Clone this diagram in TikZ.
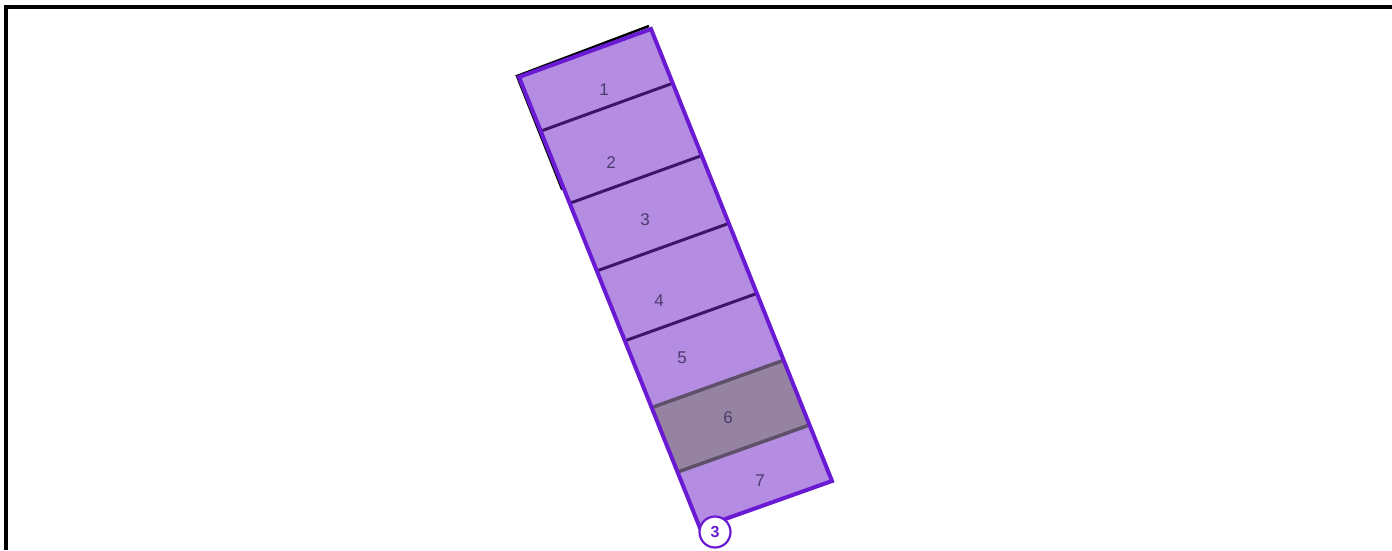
\documentclass[tikz,border=0pt]{standalone}
\usepackage{fontspec}
\setmainfont{Liberation Sans}
\usetikzlibrary{calc}
\definecolor{stripfill}{HTML}{B48DE2}
\definecolor{stripedge}{HTML}{6A1AD2}
\definecolor{divline}{HTML}{3E1468}
\definecolor{bayfill}{HTML}{9683A2}
\definecolor{bayline}{HTML}{5E5068}
\definecolor{labeltext}{HTML}{4B3B6B}
\begin{document}
\begin{tikzpicture}[
                    x=1pt,y=-1pt,
                    strip/.style={draw=stripedge,line width=4pt,line join=miter},
                    divider/.style={draw=divline,line width=3pt},
                    bay/.style={text=labeltext,font=\fontsize{17}{20}\selectfont},
                    badge/.style={circle,draw=stripedge,fill=white,line width=2.2pt,
                                  minimum size=31pt,inner sep=0pt,text=stripedge,
                                  font=\bfseries\fontsize{16}{18}\selectfont}
                  ]
  \useasboundingbox (0,0) rectangle (1392,550);
  % frame
  \draw[line width=3.5pt] (6,550) -- (6,7) -- (1392,7);
  % strip corners
  \coordinate (tl) at (519,77);
  \coordinate (tr) at (651,29);
  \coordinate (br) at (832,481);
  \coordinate (bl) at (700,528);
  % shadow
  \draw[line width=2.5pt] ($(tr)+(-2,-3)$) -- ($(tl)+(-2,-1)$) -- ($($(tl)!0.25!(bl)$)+(-2,0)$);
  \fill[stripfill] (tl) -- (tr) -- (br) -- (bl) -- cycle;
  % dividers
  \foreach \i/\f in {1/0.12,2/0.28,3/0.43,4/0.585,5/0.733,6/0.876}{
    \coordinate (l\i) at ($(tl)!\f!(bl)$);
    \coordinate (r\i) at ($(tr)!\f!(br)$);
  }
  \fill[bayfill] (l5) -- (r5) -- (r6) -- (l6) -- cycle;
  \foreach \i in {1,2,3,4}{
    \draw[divider] (l\i) -- (r\i);
  }
  \draw[draw=bayline,line width=3.5pt] (l5) -- (r5);
  \draw[draw=bayline,line width=3.5pt] (l6) -- (r6);
  \draw[strip] (tl) -- (tr) -- (br) -- (bl) -- cycle;
  % bay numbers
  \foreach \i/\x/\y in {1/604/90,2/611/163,3/645/220,4/659/301,5/682/358,6/728/418,7/760/481}{
    \node[bay] (n\i) at (\x,\y) {\i};
  }
  \node[badge] (b3) at (715,532) {3};
\end{tikzpicture}
\end{document}
